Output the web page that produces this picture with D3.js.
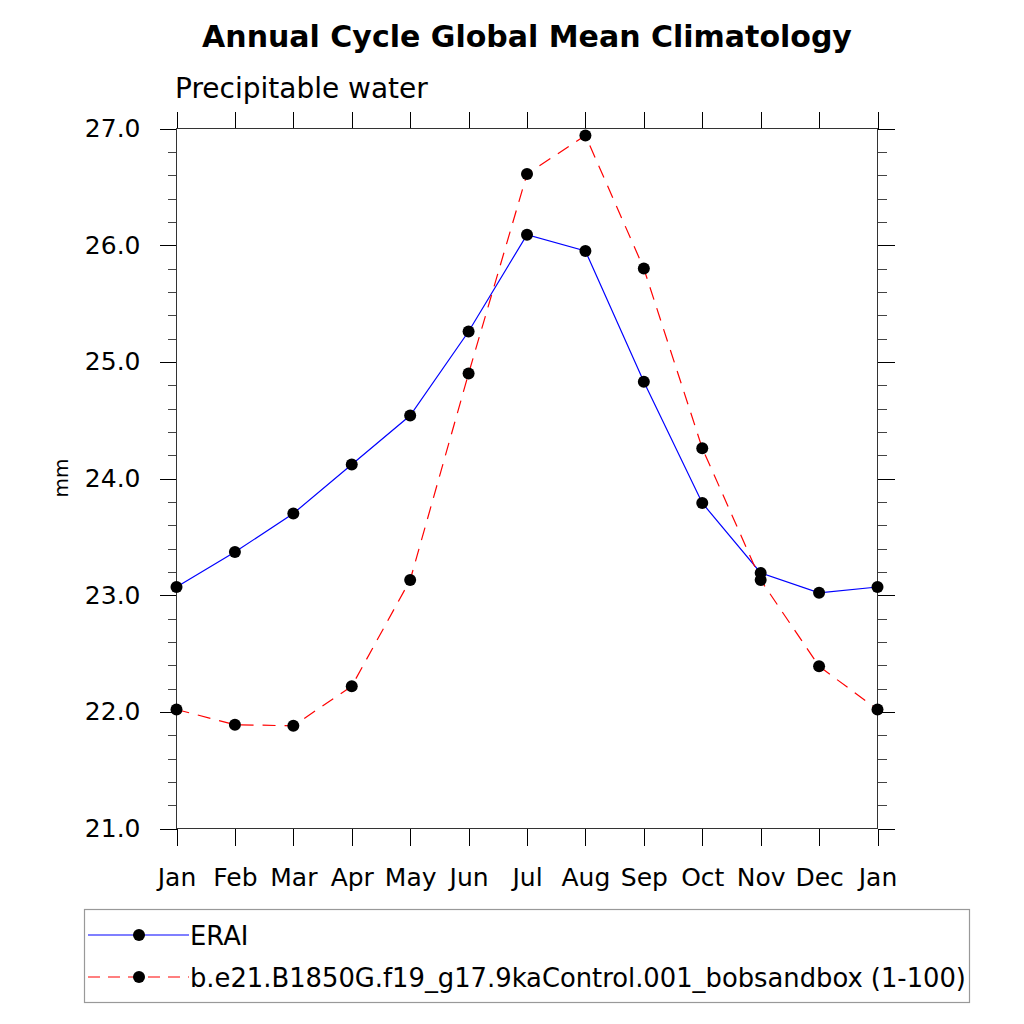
<!DOCTYPE html>
<html><head><meta charset="utf-8">
<script src="https://cdn.jsdelivr.net/npm/d3@7"></script>
<style>body{margin:0;background:#fff}svg{display:block;font-family:"DejaVu Sans",Verdana,sans-serif}</style>
</head><body>
<svg id="c" width="1024" height="1024"></svg>
<script>
const months = ["Jan","Feb","Mar","Apr","May","Jun","Jul","Aug","Sep","Oct","Nov","Dec","Jan"];
const erai = [23.07,23.37,23.70,24.12,24.54,25.26,26.09,25.95,24.83,23.79,23.19,23.02,23.07];
const model = [22.02,21.89,21.88,22.22,23.13,24.90,26.61,26.94,25.80,24.26,23.13,22.39,22.02];
const yTicks = [21.0,22.0,23.0,24.0,25.0,26.0,27.0];
const seriesNames = ["ERAI","b.e21.B1850G.f19_g17.9kaControl.001_bobsandbox (1-100)"];

const svg = d3.select("#c");
const L=176.5, R=877.5, T=128.5, B=828.5;
const x = d3.scaleLinear().domain([0,12]).range([L,R]);
const y = d3.scaleLinear().domain([21,27]).range([B,T]);

const fmt = d3.format(".1f");
const minor = d3.range(21,27.001,0.2).filter(v=>Math.abs(v-Math.round(v))>1e-6);
function yAxis(gen, tx, labels){
  const g = svg.append("g").attr("transform",`translate(${tx},0)`)
    .call(gen(y).tickValues(yTicks).tickSize(17).tickFormat(labels?fmt:"").tickPadding(19));
  g.select(".domain").remove();
  g.selectAll("line").attr("stroke","#000").attr("shape-rendering","crispEdges");
  g.selectAll("text").attr("font-size",25).attr("fill","#000").attr("font-family","DejaVu Sans");
  const gm = svg.append("g").attr("transform",`translate(${tx},0)`)
    .call(gen(y).tickValues(minor).tickSize(9).tickFormat(""));
  gm.select(".domain").remove();
  gm.selectAll("line").attr("stroke","#444").attr("shape-rendering","crispEdges");
}
yAxis(d3.axisLeft, L, true);
yAxis(d3.axisRight, R, false);
function xAxis(gen, ty, labels){
  const g = svg.append("g").attr("transform",`translate(0,${ty})`)
    .call(gen(x).tickValues(d3.range(13)).tickSize(17).tickPadding(23)
      .tickFormat(labels?(i=>months[i]):""));
  g.select(".domain").remove();
  g.selectAll("line").attr("stroke","#000").attr("shape-rendering","crispEdges");
  g.selectAll("text").attr("font-size",25).attr("fill","#000").attr("font-family","DejaVu Sans");
}
xAxis(d3.axisBottom, B, true);
xAxis(d3.axisTop, T, false);

svg.append("rect").attr("x",L).attr("y",T).attr("width",R-L).attr("height",B-T)
  .attr("fill","none").attr("stroke","#333").attr("stroke-width",1).attr("shape-rendering","crispEdges");

const line = d3.line().x((d,i)=>x(i)).y(d=>y(d));
svg.append("path").datum(erai).attr("d",line).attr("fill","none").attr("stroke","#0000ff").attr("stroke-width",1.2);
svg.append("path").datum(model).attr("d",line).attr("fill","none").attr("stroke","#ff0000").attr("stroke-width",1.2).attr("stroke-dasharray","13,9");
[erai,model].forEach(s=>{
  svg.append("g").selectAll("circle").data(s).join("circle")
    .attr("cx",(d,i)=>x(i)).attr("cy",d=>y(d)).attr("r",6).attr("fill","#000");
});

svg.append("text").attr("x",527).attr("y",47).attr("text-anchor","middle")
  .attr("font-size",30).attr("font-weight","bold").text("Annual Cycle Global Mean Climatology");
svg.append("text").attr("x",175).attr("y",98).attr("font-size",28).text("Precipitable water");
svg.append("text").attr("transform","translate(68,478) rotate(-90)").attr("text-anchor","middle")
  .attr("font-size",20).text("mm");

svg.append("rect").attr("x",84.5).attr("y",909.5).attr("width",885).attr("height",93)
  .attr("fill","none").attr("stroke","#999").attr("stroke-width",1.2);
const rows=[935,977];
const cols=["#0000ff","#ff0000"];
const dashes=[null,"12,8"];
rows.forEach((ry,i)=>{
  svg.append("line").attr("x1",88).attr("x2",189).attr("y1",ry).attr("y2",ry)
    .attr("stroke",cols[i]).attr("stroke-width",1.2).attr("stroke-dasharray",dashes[i]);
  svg.append("circle").attr("cx",139).attr("cy",ry).attr("r",6).attr("fill","#000");
  svg.append("text").attr("x",190).attr("y",ry+10).attr("font-size",25.8).text(seriesNames[i]);
});
</script>
</body></html>
